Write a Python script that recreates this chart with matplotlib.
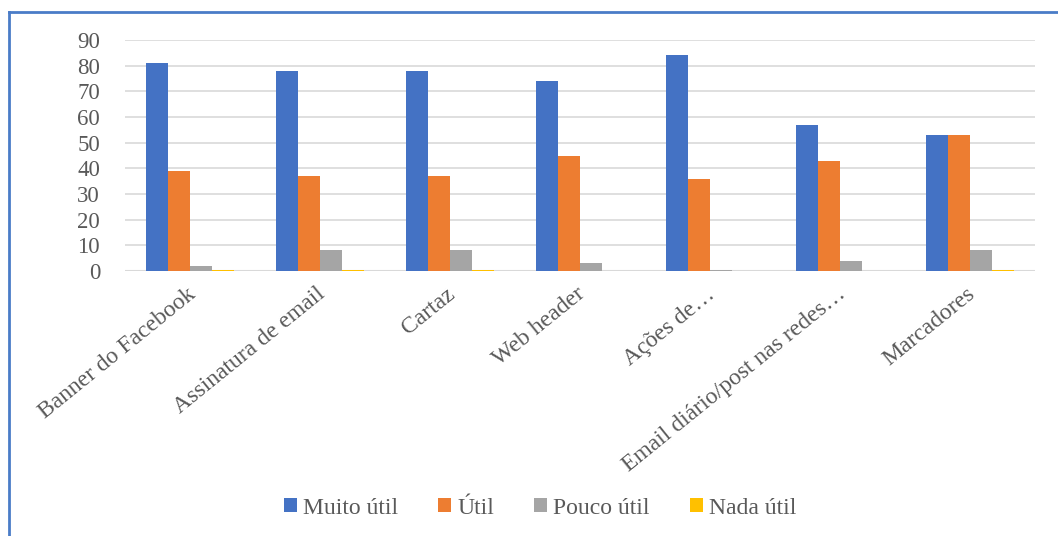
import numpy as np
import matplotlib.pyplot as plt
from matplotlib.lines import Line2D

categorias = ['Banner do Facebook', 'Assinatura de email', 'Cartaz', 'Web header',
              'Ações de…', 'Email diário/post nas redes…', 'Marcadores']
muito_util = [81, 78, 78, 74, 84, 57, 53]
util = [39, 37, 37, 45, 36, 43, 53]
pouco_util = [2, 8, 8, 3, 0.5, 4, 8]
nada_util = [0.5, 0.5, 0.5, 0, 0, 0, 0.5]

series = [('Muito útil', muito_util, '#4472c4'),
          ('Útil', util, '#ed7d31'),
          ('Pouco útil', pouco_util, '#a5a5a5'),
          ('Nada útil', nada_util, '#ffc000')]

plt.rcParams['font.family'] = ['Liberation Serif', 'DejaVu Serif']

fig = plt.figure(figsize=(10.58, 5.36), dpi=100)
ax = fig.add_axes([125 / 1058, 1 - 271 / 536, 910 / 1058, 231 / 536])

x = np.arange(len(categorias))
w = 0.17
for i, (nome, vals, cor) in enumerate(series):
    ax.bar(x + (i - 1.5) * w, vals, w, color=cor, label=nome, zorder=3)

ax.set_xlim(-0.5, len(categorias) - 0.5)
ax.set_ylim(0, 90)
ax.set_yticks(range(0, 91, 10))
ax.yaxis.grid(True, color='#d9d9d9', linewidth=1.2, zorder=0)
ax.axhline(0, color='#d9d9d9', linewidth=1.5, zorder=2)
for s in ax.spines.values():
    s.set_visible(False)
ax.tick_params(axis='both', length=0, colors='#595959')
ax.tick_params(axis='y', pad=18, labelsize=16.5)
ax.set_xticks(x - 0.03)
ax.set_xticklabels(categorias, rotation=39, ha='right', va='top',
                   rotation_mode='anchor', fontsize=17)
ax.tick_params(axis='x', pad=9)

fig.legend(loc='center', bbox_to_anchor=(540 / 1058, 1 - 508 / 536), ncol=4,
           frameon=False, fontsize=17, handlelength=0.55, handleheight=0.55,
           handletextpad=0.25, columnspacing=1.7, labelcolor='#595959')

# moldura do gráfico (apenas topo e esquerda visíveis)
fig.add_artist(Line2D([9 / 1058, 9 / 1058], [0, 1 - 12 / 536],
                      transform=fig.transFigure, color='#4a7cc7', linewidth=2))
fig.add_artist(Line2D([9 / 1058, 1], [1 - 12 / 536, 1 - 12 / 536],
                      transform=fig.transFigure, color='#4a7cc7', linewidth=2))

fig.savefig('out.png', dpi=100)
